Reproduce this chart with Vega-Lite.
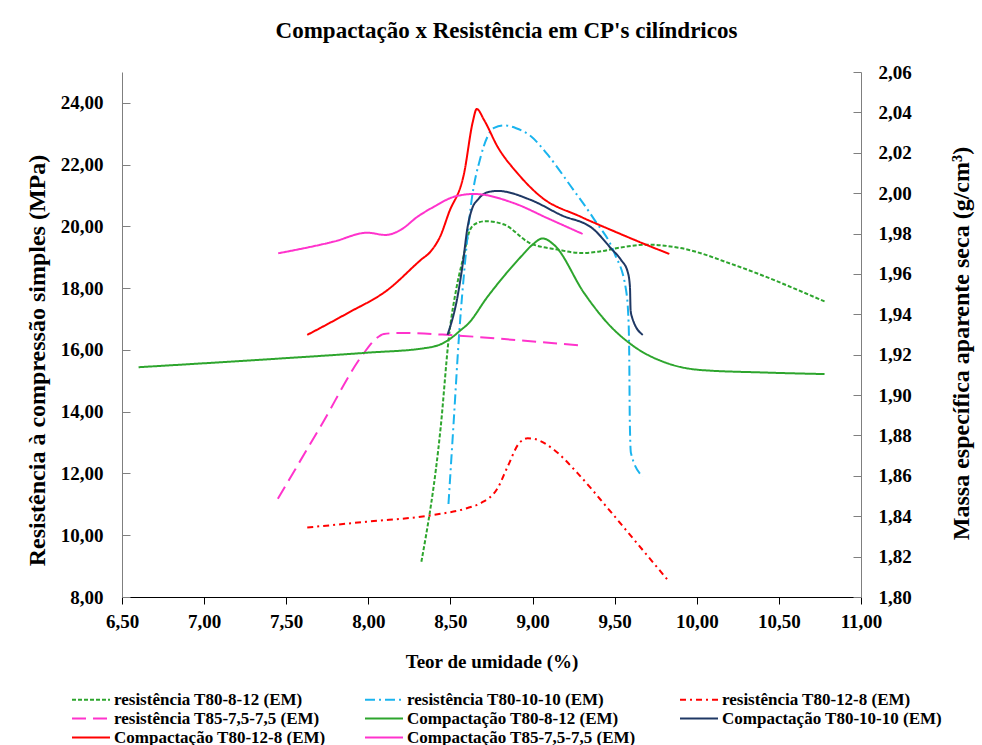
{
  "$schema": "https://vega.github.io/schema/vega-lite/v6.json",
  "width": 739,
  "height": 525,
  "autosize": "none",
  "padding": {"left": 122, "top": 72, "right": 121, "bottom": 148},
  "background": "white",
  "config": {
    "locale": {"number": {"decimal": ",", "thousands": ".", "grouping": [3], "currency": ["", " €"]}},
    "font": "Liberation Serif",
    "view": {"stroke": null}
  },
  "title": {
    "text": "Compactação x Resistência em CP's cilíndricos",
    "font": "Liberation Serif",
    "fontSize": 23,
    "fontWeight": "bold",
    "color": "black",
    "dx": 15,
    "offset": 20
  },
  "datasets": {
    "res": [
      {"s": "resistência T80-8-12 (EM)", "x": 8.323, "y": 9.14},
      {"s": "resistência T80-8-12 (EM)", "x": 8.441, "y": 13.52},
      {"s": "resistência T80-8-12 (EM)", "x": 8.491, "y": 16.44},
      {"s": "resistência T80-8-12 (EM)", "x": 8.54, "y": 18.1},
      {"s": "resistência T80-8-12 (EM)", "x": 8.583, "y": 19.1},
      {"s": "resistência T80-8-12 (EM)", "x": 8.61, "y": 19.75},
      {"s": "resistência T80-8-12 (EM)", "x": 8.644, "y": 20.06},
      {"s": "resistência T80-8-12 (EM)", "x": 8.715, "y": 20.17},
      {"s": "resistência T80-8-12 (EM)", "x": 8.827, "y": 20.06},
      {"s": "resistência T80-8-12 (EM)", "x": 8.98, "y": 19.47},
      {"s": "resistência T80-8-12 (EM)", "x": 9.152, "y": 19.25},
      {"s": "resistência T80-8-12 (EM)", "x": 9.294, "y": 19.14},
      {"s": "resistência T80-8-12 (EM)", "x": 9.4, "y": 19.18},
      {"s": "resistência T80-8-12 (EM)", "x": 9.518, "y": 19.3},
      {"s": "resistência T80-8-12 (EM)", "x": 9.701, "y": 19.41},
      {"s": "resistência T80-8-12 (EM)", "x": 9.9, "y": 19.3},
      {"s": "resistência T80-8-12 (EM)", "x": 10.229, "y": 18.75},
      {"s": "resistência T80-8-12 (EM)", "x": 10.778, "y": 17.57},

      {"s": "resistência T80-10-10 (EM)", "x": 8.488, "y": 11.01},
      {"s": "resistência T80-10-10 (EM)", "x": 8.52, "y": 13.7},
      {"s": "resistência T80-10-10 (EM)", "x": 8.552, "y": 16.44},
      {"s": "resistência T80-10-10 (EM)", "x": 8.59, "y": 18.9},
      {"s": "resistência T80-10-10 (EM)", "x": 8.624, "y": 20.65},
      {"s": "resistência T80-10-10 (EM)", "x": 8.685, "y": 22.27},
      {"s": "resistência T80-10-10 (EM)", "x": 8.766, "y": 23.19},
      {"s": "resistência T80-10-10 (EM)", "x": 8.827, "y": 23.27},
      {"s": "resistência T80-10-10 (EM)", "x": 8.9, "y": 23.18},
      {"s": "resistência T80-10-10 (EM)", "x": 8.99, "y": 22.92},
      {"s": "resistência T80-10-10 (EM)", "x": 9.091, "y": 22.33},
      {"s": "resistência T80-10-10 (EM)", "x": 9.233, "y": 21.3},
      {"s": "resistência T80-10-10 (EM)", "x": 9.376, "y": 20.22},
      {"s": "resistência T80-10-10 (EM)", "x": 9.498, "y": 19.14},
      {"s": "resistência T80-10-10 (EM)", "x": 9.569, "y": 17.95},
      {"s": "resistência T80-10-10 (EM)", "x": 9.585, "y": 16.87},
      {"s": "resistência T80-10-10 (EM)", "x": 9.589, "y": 15.68},
      {"s": "resistência T80-10-10 (EM)", "x": 9.592, "y": 13.74},
      {"s": "resistência T80-10-10 (EM)", "x": 9.599, "y": 12.66},
      {"s": "resistência T80-10-10 (EM)", "x": 9.671, "y": 11.9},

      {"s": "resistência T80-12-8 (EM)", "x": 7.628, "y": 10.25},
      {"s": "resistência T80-12-8 (EM)", "x": 7.994, "y": 10.44},
      {"s": "resistência T80-12-8 (EM)", "x": 8.4, "y": 10.66},
      {"s": "resistência T80-12-8 (EM)", "x": 8.604, "y": 10.88},
      {"s": "resistência T80-12-8 (EM)", "x": 8.685, "y": 11.04},
      {"s": "resistência T80-12-8 (EM)", "x": 8.787, "y": 11.52},
      {"s": "resistência T80-12-8 (EM)", "x": 8.848, "y": 12.22},
      {"s": "resistência T80-12-8 (EM)", "x": 8.918, "y": 12.98},
      {"s": "resistência T80-12-8 (EM)", "x": 8.97, "y": 13.14},
      {"s": "resistência T80-12-8 (EM)", "x": 9.01, "y": 13.12},
      {"s": "resistência T80-12-8 (EM)", "x": 9.132, "y": 12.76},
      {"s": "resistência T80-12-8 (EM)", "x": 9.274, "y": 12.01},
      {"s": "resistência T80-12-8 (EM)", "x": 9.457, "y": 10.88},
      {"s": "resistência T80-12-8 (EM)", "x": 9.619, "y": 9.85},
      {"s": "resistência T80-12-8 (EM)", "x": 9.823, "y": 8.55},

      {"s": "resistência T85-7,5-7,5 (EM)", "x": 7.449, "y": 11.18},
      {"s": "resistência T85-7,5-7,5 (EM)", "x": 7.711, "y": 13.54},
      {"s": "resistência T85-7,5-7,5 (EM)", "x": 7.973, "y": 15.9},
      {"s": "resistência T85-7,5-7,5 (EM)", "x": 8.04, "y": 16.33},
      {"s": "resistência T85-7,5-7,5 (EM)", "x": 8.095, "y": 16.52},
      {"s": "resistência T85-7,5-7,5 (EM)", "x": 8.197, "y": 16.55},
      {"s": "resistência T85-7,5-7,5 (EM)", "x": 8.502, "y": 16.48},
      {"s": "resistência T85-7,5-7,5 (EM)", "x": 8.9, "y": 16.32},
      {"s": "resistência T85-7,5-7,5 (EM)", "x": 9.305, "y": 16.14}
    ],
    "comp": [
      {"s": "Compactação T80-8-12 (EM)", "x": 6.601, "y": 1.9138},
      {"s": "Compactação T80-8-12 (EM)", "x": 7.384, "y": 1.9177},
      {"s": "Compactação T80-8-12 (EM)", "x": 7.994, "y": 1.921},
      {"s": "Compactação T80-8-12 (EM)", "x": 8.339, "y": 1.9232},
      {"s": "Compactação T80-8-12 (EM)", "x": 8.45, "y": 1.9255},
      {"s": "Compactação T80-8-12 (EM)", "x": 8.502, "y": 1.9281},
      {"s": "Compactação T80-8-12 (EM)", "x": 8.563, "y": 1.9322},
      {"s": "Compactação T80-8-12 (EM)", "x": 8.604, "y": 1.935},
      {"s": "Compactação T80-8-12 (EM)", "x": 8.726, "y": 1.9487},
      {"s": "Compactação T80-8-12 (EM)", "x": 8.929, "y": 1.9685},
      {"s": "Compactação T80-8-12 (EM)", "x": 9.0, "y": 1.9745},
      {"s": "Compactação T80-8-12 (EM)", "x": 9.061, "y": 1.9776},
      {"s": "Compactação T80-8-12 (EM)", "x": 9.132, "y": 1.9743},
      {"s": "Compactação T80-8-12 (EM)", "x": 9.315, "y": 1.9504},
      {"s": "Compactação T80-8-12 (EM)", "x": 9.457, "y": 1.9356},
      {"s": "Compactação T80-8-12 (EM)", "x": 9.619, "y": 1.924},
      {"s": "Compactação T80-8-12 (EM)", "x": 9.823, "y": 1.9157},
      {"s": "Compactação T80-8-12 (EM)", "x": 10.026, "y": 1.9124},
      {"s": "Compactação T80-8-12 (EM)", "x": 10.4, "y": 1.9112},
      {"s": "Compactação T80-8-12 (EM)", "x": 10.778, "y": 1.9104},

      {"s": "Compactação T80-10-10 (EM)", "x": 8.482, "y": 1.9298},
      {"s": "Compactação T80-10-10 (EM)", "x": 8.543, "y": 1.9487},
      {"s": "Compactação T80-10-10 (EM)", "x": 8.575, "y": 1.965},
      {"s": "Compactação T80-10-10 (EM)", "x": 8.604, "y": 1.983},
      {"s": "Compactação T80-10-10 (EM)", "x": 8.635, "y": 1.993},
      {"s": "Compactação T80-10-10 (EM)", "x": 8.665, "y": 1.9966},
      {"s": "Compactação T80-10-10 (EM)", "x": 8.72, "y": 2.0003},
      {"s": "Compactação T80-10-10 (EM)", "x": 8.787, "y": 2.0011},
      {"s": "Compactação T80-10-10 (EM)", "x": 8.99, "y": 1.9966},
      {"s": "Compactação T80-10-10 (EM)", "x": 9.172, "y": 1.9892},
      {"s": "Compactação T80-10-10 (EM)", "x": 9.376, "y": 1.9818},
      {"s": "Compactação T80-10-10 (EM)", "x": 9.477, "y": 1.9727},
      {"s": "Compactação T80-10-10 (EM)", "x": 9.539, "y": 1.9669},
      {"s": "Compactação T80-10-10 (EM)", "x": 9.579, "y": 1.9611},
      {"s": "Compactação T80-10-10 (EM)", "x": 9.593, "y": 1.9537},
      {"s": "Compactação T80-10-10 (EM)", "x": 9.597, "y": 1.9421},
      {"s": "Compactação T80-10-10 (EM)", "x": 9.606, "y": 1.9385},
      {"s": "Compactação T80-10-10 (EM)", "x": 9.671, "y": 1.9298},

      {"s": "Compactação  T80-12-8 (EM)", "x": 7.628, "y": 1.9298},
      {"s": "Compactação  T80-12-8 (EM)", "x": 7.872, "y": 1.9405},
      {"s": "Compactação  T80-12-8 (EM)", "x": 8.116, "y": 1.952},
      {"s": "Compactação  T80-12-8 (EM)", "x": 8.319, "y": 1.9669},
      {"s": "Compactação  T80-12-8 (EM)", "x": 8.38, "y": 1.9712},
      {"s": "Compactação  T80-12-8 (EM)", "x": 8.44, "y": 1.979},
      {"s": "Compactação  T80-12-8 (EM)", "x": 8.49, "y": 1.9902},
      {"s": "Compactação  T80-12-8 (EM)", "x": 8.583, "y": 2.0098},
      {"s": "Compactação  T80-12-8 (EM)", "x": 8.636, "y": 2.0353},
      {"s": "Compactação  T80-12-8 (EM)", "x": 8.66, "y": 2.0417},
      {"s": "Compactação  T80-12-8 (EM)", "x": 8.705, "y": 2.0362},
      {"s": "Compactação  T80-12-8 (EM)", "x": 8.787, "y": 2.023},
      {"s": "Compactação  T80-12-8 (EM)", "x": 8.909, "y": 2.0098},
      {"s": "Compactação  T80-12-8 (EM)", "x": 9.051, "y": 1.9982},
      {"s": "Compactação  T80-12-8 (EM)", "x": 9.294, "y": 1.9883},
      {"s": "Compactação  T80-12-8 (EM)", "x": 9.5, "y": 1.981},
      {"s": "Compactação  T80-12-8 (EM)", "x": 9.721, "y": 1.9735},
      {"s": "Compactação  T80-12-8 (EM)", "x": 9.833, "y": 1.9699},

      {"s": "Compactação  T85-7,5-7,5  (EM)", "x": 7.451, "y": 1.9702},
      {"s": "Compactação  T85-7,5-7,5  (EM)", "x": 7.79, "y": 1.976},
      {"s": "Compactação  T85-7,5-7,5  (EM)", "x": 7.994, "y": 1.9804},
      {"s": "Compactação  T85-7,5-7,5  (EM)", "x": 8.105, "y": 1.9793},
      {"s": "Compactação  T85-7,5-7,5  (EM)", "x": 8.197, "y": 1.9818},
      {"s": "Compactação  T85-7,5-7,5  (EM)", "x": 8.299, "y": 1.9883},
      {"s": "Compactação  T85-7,5-7,5  (EM)", "x": 8.4, "y": 1.9933},
      {"s": "Compactação  T85-7,5-7,5  (EM)", "x": 8.522, "y": 1.9982},
      {"s": "Compactação  T85-7,5-7,5  (EM)", "x": 8.644, "y": 1.9996},
      {"s": "Compactação  T85-7,5-7,5  (EM)", "x": 8.888, "y": 1.995},
      {"s": "Compactação  T85-7,5-7,5  (EM)", "x": 9.091, "y": 1.9876},
      {"s": "Compactação  T85-7,5-7,5  (EM)", "x": 9.305, "y": 1.9798}
    ]
  },
  "encoding": {
    "x": {
      "field": "x", "type": "quantitative",
      "scale": {"domain": [6.5, 11], "nice": false, "zero": false},
      "axis": {
        "values": [6.5, 7, 7.5, 8, 8.5, 9, 9.5, 10, 10.5, 11],
        "format": ".2f",
        "grid": false,
        "domainColor": "black", "tickColor": "black", "tickSize": 7,
        "labelFont": "Liberation Serif", "labelFontWeight": "bold", "labelFontSize": 19, "labelColor": "black",
        "labelPadding": 8, "labelFlush": false,
        "title": "Teor de umidade (%)",
        "titleFont": "Liberation Serif", "titleFontWeight": "bold", "titleFontSize": 19, "titleColor": "black",
        "titlePadding": 21
      }
    },
    "color": {
      "field": "s", "type": "nominal",
      "scale": {
        "domain": ["resistência T80-8-12 (EM)", "resistência T85-7,5-7,5 (EM)", "Compactação  T80-12-8 (EM)", "resistência T80-10-10 (EM)", "Compactação T80-8-12 (EM)", "Compactação  T85-7,5-7,5  (EM)", "resistência T80-12-8 (EM)", "Compactação T80-10-10 (EM)"],
        "range": ["#2DA52D", "#FF33CC", "#FF0000", "#1AB4EE", "#2DA52D", "#FF33CC", "#FF0000", "#1F3864"]
      },
      "legend": {
        "orient": "none", "legendX": -30, "legendY": 618,
        "columns": 3, "title": null,
        "symbolType": "M-3.47,0H1", "symbolSize": 289, "symbolStrokeWidth": 2,
        "labelFont": "Liberation Serif", "labelFontWeight": "bold", "labelFontSize": 17, "labelColor": "black",
        "labelLimit": 400, "labelOffset": 3, "rowPadding": 1, "columnPadding": 31
      }
    },
    "strokeDash": {
      "field": "s", "type": "nominal",
      "scale": {
        "domain": ["resistência T80-8-12 (EM)", "resistência T85-7,5-7,5 (EM)", "Compactação  T80-12-8 (EM)", "resistência T80-10-10 (EM)", "Compactação T80-8-12 (EM)", "Compactação  T85-7,5-7,5  (EM)", "resistência T80-12-8 (EM)", "Compactação T80-10-10 (EM)"],
        "range": [[4, 2], [14, 7], [1, 0], [10, 4, 2, 4], [1, 0], [1, 0], [6, 4, 2, 4], [1, 0]]
      }
    }
  },
  "layer": [
    {
      "data": {"name": "res"},
      "mark": {"type": "line", "interpolate": "monotone", "strokeWidth": 2},
      "encoding": {
        "y": {
          "field": "y", "type": "quantitative",
          "scale": {"domain": [8, 25], "nice": false, "zero": false},
          "axis": {
            "orient": "left",
            "values": [8, 10, 12, 14, 16, 18, 20, 22, 24],
            "format": ".2f",
            "grid": false,
            "domainColor": "#7f7f7f", "tickColor": "#7f7f7f", "tickSize": -8,
            "labelFont": "Liberation Serif", "labelFontWeight": "bold", "labelFontSize": 19, "labelColor": "black",
            "labelPadding": 27, "labelFlush": false,
            "title": "Resistência à compressão simples (MPa)",
            "titleFont": "Liberation Serif", "titleFontWeight": "bold", "titleFontSize": 24, "titleColor": "black",
            "titleAngle": -90, "titleBaseline": "bottom", "titleAlign": "center",
            "titleX": -73, "titleY": 288
          }
        }
      }
    },
    {
      "data": {"name": "comp"},
      "mark": {"type": "line", "interpolate": "monotone", "strokeWidth": 2},
      "encoding": {
        "y": {
          "field": "y", "type": "quantitative",
          "scale": {"domain": [1.8, 2.06], "nice": false, "zero": false},
          "axis": {
            "orient": "right",
            "values": [1.8, 1.82, 1.84, 1.86, 1.88, 1.9, 1.92, 1.94, 1.96, 1.98, 2.0, 2.02, 2.04, 2.06],
            "format": ".2f",
            "grid": false,
            "domainColor": "#7f7f7f", "tickColor": "#7f7f7f", "tickSize": -8,
            "labelFont": "Liberation Serif", "labelFontWeight": "bold", "labelFontSize": 19, "labelColor": "black",
            "labelPadding": 25, "labelFlush": false,
            "title": "Massa específica aparente seca  (g/cm³)",
            "titleFont": "Liberation Serif", "titleFontWeight": "bold", "titleFontSize": 24, "titleColor": "black",
            "titleAngle": -90, "titleBaseline": "bottom", "titleAlign": "center",
            "titleX": 112, "titleY": 271
          }
        }
      }
    }
  ],
  "resolve": {"scale": {"y": "independent"}}
}
